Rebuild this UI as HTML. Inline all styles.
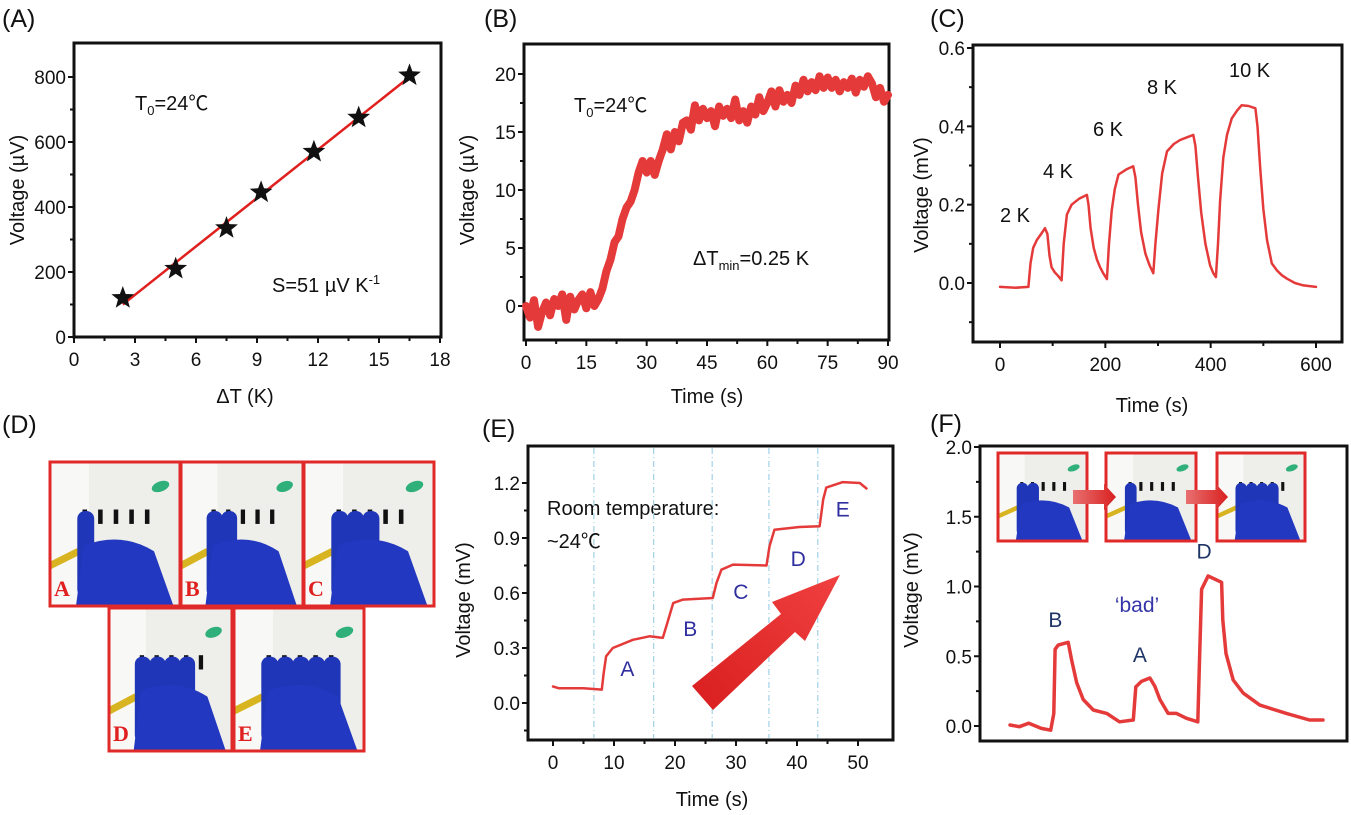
<!DOCTYPE html>
<html><head><meta charset="utf-8"><style>
html,body{margin:0;padding:0;background:#fff;}
svg{display:block;font-family:"Liberation Sans","Noto Sans CJK SC",sans-serif;}
</style></head><body>
<svg id="fig" width="1351" height="815" viewBox="0 0 1351 815" xmlns="http://www.w3.org/2000/svg">
<defs>
<linearGradient id="arrowGrad" x1="0" y1="1" x2="1" y2="0"><stop offset="0" stop-color="#d91e1e"/><stop offset="1" stop-color="#f04040"/></linearGradient>
<linearGradient id="smallArrow" x1="0" y1="0" x2="1" y2="0"><stop offset="0" stop-color="#e87070"/><stop offset="1" stop-color="#d92020"/></linearGradient>
</defs>
<g font-size="25" fill="#111">
<text x="2" y="27">(A)</text>
<text x="484" y="27">(B)</text>
<text x="930" y="27">(C)</text>
<text x="2" y="433">(D)</text>
<text x="482" y="437">(E)</text>
<text x="930" y="432">(F)</text>
</g>
<g font-size="20" fill="#111">
<text x="135" y="110">T<tspan font-size="13" dy="5">0</tspan><tspan dy="-5">=24℃</tspan></text>
<text x="272" y="292">S=51 µV K<tspan font-size="13" dy="-8">-1</tspan></text>
<text x="574" y="112">T<tspan font-size="13" dy="5">0</tspan><tspan dy="-5">=24℃</tspan></text>
<text x="693" y="265">ΔT<tspan font-size="13" dy="5">min</tspan><tspan dy="-5">=0.25 K</tspan></text>
<text x="1000" y="222">2 K</text>
<text x="1043" y="178">4 K</text>
<text x="1093" y="136">6 K</text>
<text x="1147" y="94">8 K</text>
<text x="1229" y="77">10 K</text>
<text x="547" y="515">Room temperature:</text>
<text x="547" y="548">~24℃</text>
</g>
<g id="layer"></g>
</svg>
<script>
const NS="http://www.w3.org/2000/svg";
const layer=document.getElementById('layer');
function mk(tag,attrs,parent){const e=document.createElementNS(NS,tag);for(const k in attrs)e.setAttribute(k,attrs[k]);(parent||layer).appendChild(e);return e;}
function lin(d0,d1,r0,r1){return v=>r0+(v-d0)/(d1-d0)*(r1-r0);}

// ---- Data: Panel A ----
const aDeltaT=[2.4,5.0,7.5,9.2,11.8,14.0,16.5];
const aVoltage=[120,210,335,445,570,675,805];
const aFitX=[2.4,16.5];
const aFitY=[100,800];
const aXTicks=[0,3,6,9,12,15,18];
const aYTicks=[0,200,400,600,800];
// ---- Data: Panel B ----
const bTime=[0,1,2,3,4,5,6,7,8,9,10,11,12,13,14,15,16,17,18,19,20,21,22,23,24,25,26,27,28,29,30,31,32,33,34,35,36,37,38,39,40,41,42,43,44,45,46,47,48,49,50,51,52,53,54,55,56,57,58,59,60,61,62,63,64,65,66,67,68,69,70,71,72,73,74,75,76,77,78,79,80,81,82,83,84,85,86,87,88,89,90];
const bVoltage=[0,-1,0.5,-1.8,-0.5,0.3,-0.8,0.6,0,1,-1.2,0.8,-0.3,0.5,1,-0.2,1.2,0,0.6,1.5,3,4,5.5,6,7.5,8.5,9,10,11.5,12.5,11.5,12.5,11.3,12.5,13.5,14.8,13.5,15,14.2,15.8,16,15.2,17.3,16,17,16.2,16.8,15.5,17.2,16.4,17,16.2,17.8,16,16.8,15.8,17.2,16.5,18,16.8,17.5,18.5,17.2,18.6,17.6,18.2,17.5,19,18.2,19.5,18.5,19.3,18.6,19.8,18.8,19.7,18.8,19.5,18.5,19.3,18.8,19.6,18.4,19.5,18.9,19.8,19.2,18,18.8,17.6,18.2];
const bXTicks=[0,15,30,45,60,75,90];
const bYTicks=[0,5,10,15,20];
// ---- Data: Panel C ----
const cTime=[0,30,54,58,63,70,78,85.5,90,94,98,104,111,117,121,127,136,150,165,168,172,178,184,190,196,203,207,212,218,225,240,253,257,262,268,276,284,291,295,301,308,317,330,342,355,367,371,376,382,390,399,405,410,414,418,424,431,440,450,459,472,485,489,494,500,507,516,526,535,545,560,576,600];
const cVoltage=[-0.01,-0.012,-0.01,0.05,0.09,0.11,0.125,0.14,0.125,0.07,0.04,0.027,0.017,0.007,0.1,0.175,0.2,0.215,0.225,0.2,0.14,0.09,0.06,0.04,0.025,0.01,0.1,0.185,0.24,0.277,0.29,0.298,0.27,0.2,0.13,0.075,0.045,0.025,0.1,0.19,0.28,0.336,0.355,0.365,0.372,0.378,0.35,0.27,0.18,0.1,0.045,0.025,0.015,0.1,0.21,0.32,0.378,0.42,0.44,0.454,0.452,0.446,0.4,0.294,0.19,0.11,0.05,0.032,0.02,0.011,0,-0.006,-0.01];
const cXTicks=[0,200,400,600];
const cYTicks=[0,0.2,0.4,0.6];
// ---- Data: Panel E ----
const eTime=[0,1,5,8,8.3,8.7,9.8,13.1,15.8,18,18.9,19.7,21.3,26.2,26.8,27.6,29.5,35,35.5,36.3,40.4,43.7,44.3,44.8,47.5,50.3,51.4];
const eVoltage=[0.09,0.08,0.08,0.073,0.16,0.255,0.3,0.345,0.364,0.355,0.455,0.545,0.564,0.573,0.655,0.727,0.755,0.75,0.855,0.945,0.96,0.964,1.11,1.175,1.205,1.2,1.17];
const eDividers=[6.7,16.5,26.1,35.4,43.4];
const eStepLabels=['A','B','C','D','E'];
const eStepT=[12.2,22.5,30.8,40.2,47.5];
const eStepV=[0.19,0.41,0.61,0.79,1.06];
const eXTicks=[0,10,20,30,40,50];
const eYTicks=[0,0.3,0.6,0.9,1.2];
// ---- Data: Panel F ----
const fIndex=[0,3,6,10,13,14,14.4,15.4,18.6,19.7,21.3,23.4,26.6,30.9,35,39.4,40.2,42,44.7,46.3,47.9,50.5,53.2,56.4,60,60.6,61.2,63.3,67.6,68,69,71.3,74.5,79.8,88.3,95.7,100];
const fVoltage=[0.007,-0.005,0.02,-0.017,-0.03,0.09,0.55,0.58,0.6,0.47,0.31,0.19,0.115,0.09,0.03,0.043,0.28,0.32,0.344,0.284,0.19,0.09,0.09,0.055,0.03,0.52,0.98,1.075,1.03,0.76,0.52,0.33,0.236,0.15,0.09,0.043,0.043];
const fPeakLabels=['B','A','D'];
const fPeakIdx=[14.5,41.5,62];
const fPeakV=[0.71,0.46,1.2];
const fYTicks=[0,0.5,1.0,1.5,2.0];

function fmt(v,d){return d==null?String(v):v.toFixed(d);}
function axes(name,box,xs,ys,xt,yt,xmin,ymin,xd,yd){
  const g=mk('g',{});
  
  
  const fr=mk('rect',{x:box[0],y:box[2],width:box[1]-box[0],height:box[3]-box[2],fill:'none',stroke:'#111','stroke-width':3},g);
  
  
  if(xt){xt.forEach(v=>{const x=xs(v);
    const t=mk('line',{x1:x,x2:x,y1:box[3],y2:box[3]+6,stroke:'#111','stroke-width':2},g);
    
    
    const l=mk('text',{x:x,y:box[3]+29,'text-anchor':'middle','font-size':19,fill:'#111'},g);l.textContent=fmt(v,xd);
    
    });
   (xmin||[]).forEach(v=>{const x=xs(v);mk('line',{x1:x,x2:x,y1:box[3],y2:box[3]+4,stroke:'#111','stroke-width':2},g);});}
  yt.forEach(v=>{const y=ys(v);
    const t=mk('line',{x1:box[0]-6,x2:box[0],y1:y,y2:y,stroke:'#111','stroke-width':2},g);
    
    
    const l=mk('text',{x:box[0]-8,y:y+7,'text-anchor':'end','font-size':19,fill:'#111'},g);l.textContent=fmt(v,yd);
    
    });
  (ymin||[]).forEach(v=>{const y=ys(v);mk('line',{x1:box[0]-4,x2:box[0],y1:y,y2:y,stroke:'#111','stroke-width':2},g);});
}
function title(txt,x,y,rot,name){const t=mk('text',{x:x,y:y,'text-anchor':'middle','font-size':20,fill:'#111',transform:rot?`rotate(-90 ${x} ${y})`:''});t.textContent=txt;
  
  }
function line(xsArr,ysArr,xs,ys,w,name){const d=xsArr.map((v,i)=>(i?'L':'M')+xs(v).toFixed(1)+','+ys(ysArr[i]).toFixed(1)).join('');
  const p=mk('path',{d:d,fill:'none',stroke:'#e53a3a','stroke-width':w,'stroke-linejoin':'round','stroke-linecap':'round'});
  
  return p;}

// Panel A
{const xs=lin(0,18,74,440),ys=lin(0,800,337,77);
 axes('panel-a',[74,441,43,337],xs,ys,aXTicks,aYTicks,[1.5,4.5,7.5,10.5,13.5,16.5],[100,300,500,700]);
 const f=mk('line',{x1:xs(aFitX[0]),y1:ys(aFitY[0]),x2:xs(aFitX[1]),y2:ys(aFitY[1]),stroke:'#e0201e','stroke-width':2.5});
 
 
 aDeltaT.forEach((v,i)=>{const cx=xs(v),cy=ys(aVoltage[i]);let pts=[];
   for(let k=0;k<10;k++){const r=k%2?5:12,a=-Math.PI/2+k*Math.PI/5;pts.push((cx+r*Math.cos(a)).toFixed(1)+','+(cy+r*Math.sin(a)).toFixed(1));}
   const s=mk('polygon',{points:pts.join(' '),fill:'#111'});
   
   });
 title('Voltage (µV)',24,190,true,'panel-a-y-title');title('ΔT (K)',245,403,false,'panel-a-x-title');}
// Panel B
{const xs=lin(0,90,526,888),ys=lin(0,20,306,74);
 axes('panel-b',[524,889,44,340],xs,ys,bXTicks,bYTicks,[7.5,22.5,37.5,52.5,67.5,82.5],[2.5,7.5,12.5,17.5]);
 line(bTime,bVoltage,xs,ys,8,'voltage-trace-b');
 title('Voltage (µV)',474,190,true,'panel-b-y-title');title('Time (s)',707,403,false,'panel-b-x-title');}
// Panel C
{const xs=lin(0,600,1000,1316),ys=lin(0,0.6,283,48);
 axes('panel-c',[973,1342,45,342],xs,ys,cXTicks,cYTicks,[100,300,500],[-0.1,0.1,0.3,0.5],0,1);
 line(cTime,cVoltage,xs,ys,2.5,'voltage-trace-c');
 title('Voltage (mV)',928,195,true,'panel-c-y-title');title('Time (s)',1152,412,false,'panel-c-x-title');}
// Panel E
{const xs=lin(0,50,553,858),ys=lin(0,1.2,703,483);
 axes('panel-e',[528,893,446,740],xs,ys,eXTicks,eYTicks,[5,15,25,35,45],[-0.15,0.15,0.45,0.75,1.05],0,1);
 eDividers.forEach(v=>{const l=mk('line',{x1:xs(v),x2:xs(v),y1:448,y2:738,stroke:'#a8d4e8','stroke-width':1.3,'stroke-dasharray':'6 3 1 3'});
   
   });
 line(eTime,eVoltage,xs,ys,2.5,'voltage-trace-e');
 eStepLabels.forEach((s,i)=>{const t=mk('text',{x:xs(eStepT[i]),y:ys(eStepV[i])+8,'text-anchor':'middle','font-size':21,fill:'#2f2fa0'});t.textContent=s;
   
   });
 const ar=mk('polygon',{points:'692,686 781,614 772,602 840,575 805,641 795,632 713,710',fill:'url(#arrowGrad)'});
 
 
 title('Voltage (mV)',470,600,true,'panel-e-y-title');title('Time (s)',712,806,false,'panel-e-x-title');}
// Panel F
{const xs=lin(0,100,1010,1323),ys=lin(0,2,726,447);
 axes('panel-f',[980,1347,446,741],xs,ys,null,fYTicks,null,[0.25,0.75,1.25,1.75],0,1);
 line(fIndex,fVoltage,xs,ys,3.5,'voltage-trace-f');
 fPeakLabels.forEach((s,i)=>{const t=mk('text',{x:xs(fPeakIdx[i]),y:ys(fPeakV[i]),'text-anchor':'middle','font-size':21,fill:'#1f3568'});t.textContent=s;
   
   });
 const b=mk('text',{x:1137,y:612,'text-anchor':'middle','font-size':21,fill:'#3535a8'});b.textContent='‘bad’';
 
 
 title('Voltage (mV)',918,590,true,'panel-f-y-title');}

// Photos
function photo(x,y,w,h,n,label,name){
  const g=mk('g',{});
  
  
  mk('rect',{x:x,y:y,width:w,height:h,fill:'#eeeeea'},g);
  mk('rect',{x:x,y:y,width:w*0.3,height:h,fill:'#f8f8f6'},g);
  mk('ellipse',{cx:x+w*0.85,cy:y+h*0.17,rx:w*0.07,ry:h*0.035,fill:'#2fb07a',transform:`rotate(-20 ${x+w*0.85} ${y+h*0.17})`},g);
  mk('path',{d:`M${x} ${y+h*0.72} L${x+w*0.22} ${y+h*0.62}`,stroke:'#d8b420','stroke-width':h*0.05},g);
  for(let k=0;k<5;k++){mk('rect',{x:x+w*(0.25+k*0.12),y:y+h*0.33,width:w*0.035,height:h*0.1,fill:'#111'},g);}
  for(let k=0;k<n;k++){const fx=x+w*(0.27+k*0.12);mk('rect',{x:fx-w*0.06,y:y+h*0.34,width:w*0.13,height:h*0.6,rx:w*0.06,fill:'#2036b8'},g);}
  mk('path',{d:`M${x+w*0.2} ${y+h} L${x+w*0.26} ${y+h*0.58} Q${x+w*0.55} ${y+h*0.48} ${x+w*0.8} ${y+h*0.62} L${x+w*0.95} ${y+h} Z`,fill:'#2238c0'},g);
  mk('rect',{x:x,y:y,width:w,height:h,fill:'none',stroke:'#e02a2a','stroke-width':3},g);
  if(label){const t=mk('text',{x:x+4,y:y+h-10,'font-size':22,'font-weight':'bold','font-family':'Liberation Serif, serif',fill:'#e02020'},g);t.textContent=label;
   
   }
}
photo(50,462,130,144,1,'A','photo-a');
photo(181,462,122,144,2,'B','photo-b');
photo(304,462,130,144,3,'C','photo-c');
photo(109,608,123,143,4,'D','photo-d');
photo(234,608,130,143,5,'E','photo-e');
photo(998,453,89,88,2,null,'inset-photo-1');
photo(1106,453,90,88,1,null,'inset-photo-2');
photo(1217,453,88,88,4,null,'inset-photo-3');
[[1073,1116],[1186,1228]].forEach(p=>{const a=mk('polygon',{points:`${p[0]},490 ${p[1]-12},490 ${p[1]-12},484 ${p[1]},497 ${p[1]-12},510 ${p[1]-12},504 ${p[0]},504`,fill:'url(#smallArrow)'});
  
  });
</script>
</body></html>
